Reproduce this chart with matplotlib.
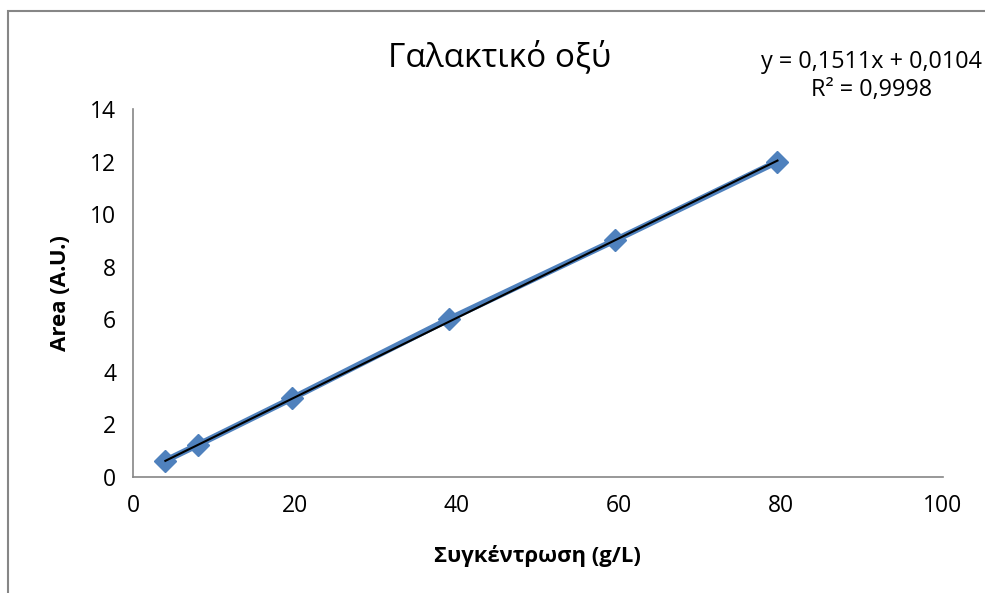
import matplotlib.pyplot as plt
from matplotlib.patches import Rectangle

# calibration points (concentration vs peak area)
conc = [4, 8, 19.7, 39, 59.5, 79.6]
area = [0.62, 1.22, 3.0, 6.0, 9.0, 12.0]

# linear trendline as reported
slope = 0.1511
intercept = 0.0104
r2 = 0.9998

plt.rcParams['font.family'] = ['Open Sans', 'DejaVu Sans']

fig = plt.figure(figsize=(9.85, 5.93), dpi=100)
ax = fig.add_axes([0.135, 0.1956, 0.822, 0.6206])

blue = "#4F81BD"
ax.plot(conc, area, color=blue, lw=4.5, marker="D", ms=11, mfc=blue, mec=blue, zorder=2)

tx = [conc[0], conc[-1]]
ty = [slope * v + intercept for v in tx]
ax.plot(tx, ty, color="black", lw=1.5, zorder=3)

ax.set_xlim(0, 100)
ax.set_ylim(0, 14)
ax.set_xticks(range(0, 101, 20))
ax.set_yticks(range(0, 15, 2))
ax.tick_params(length=0, labelsize=16.5, pad=12)

for s in ["top", "right"]:
    ax.spines[s].set_visible(False)
for s in ["left", "bottom"]:
    ax.spines[s].set_color("#868686")
    ax.spines[s].set_linewidth(1.2)

ax.set_xlabel("Συγκέντρωση (g/L)", fontsize=15.8, fontweight="bold", labelpad=20)
ax.set_ylabel("Area (A.U.)", fontsize=16, fontweight="bold", labelpad=14)

fig.text(0.507, 0.903, "Γαλακτικό οξύ", fontsize=24, ha="center", va="center")
eq = "y = " + f"{slope:.4f}".replace(".", ",") + "x + " + f"{intercept:.4f}".replace(".", ",")
r2txt = "R² = " + f"{r2:.4f}".replace(".", ",")
fig.text(0.885, 0.872, eq + "\n" + r2txt, fontsize=16.8, ha="center", va="center",
         linespacing=1.2)

# outer chart frame, running off the right and bottom edges
fig.patches.append(Rectangle((8 / 985, -0.1), 1.2, 1.1 - 11 / 593,
                             transform=fig.transFigure, fill=False,
                             edgecolor="#868686", lw=1.5))

fig.savefig("out.png", dpi=100)
